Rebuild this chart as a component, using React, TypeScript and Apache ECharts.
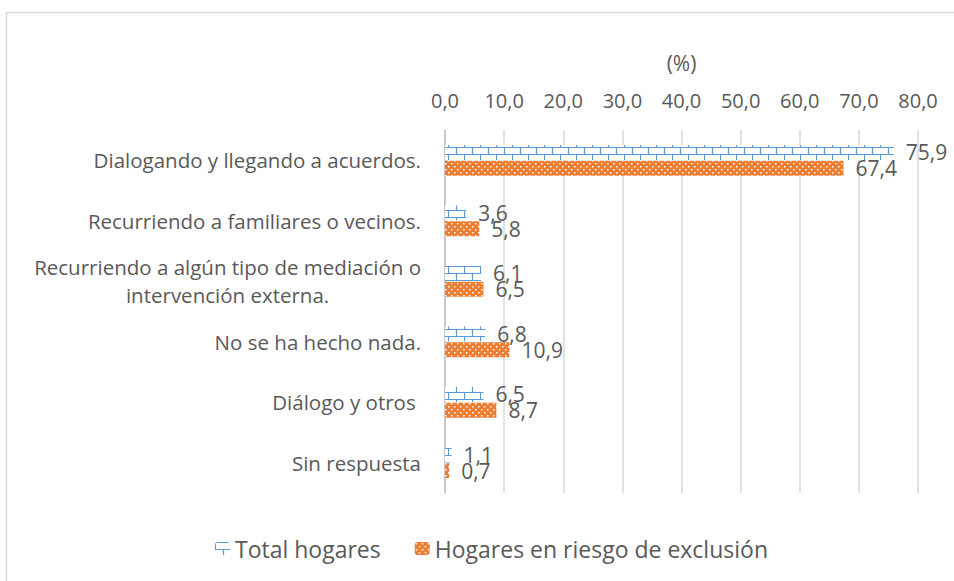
import React, { useEffect, useRef } from "react";
import * as echarts from "echarts";

const categories = [
  "Dialogando y llegando a acuerdos.",
  "Recurriendo a familiares o vecinos.",
  "Recurriendo a algún tipo de mediación o\nintervención externa.",
  "No se ha hecho nada.",
  "Diálogo y otros ",
  "Sin respuesta",
];
const totalHogares = [75.9, 3.6, 6.1, 6.8, 6.5, 1.1];
const riesgoExclusion = [67.4, 5.8, 6.5, 10.9, 8.7, 0.7];
const seriesNames = ["Total hogares", "Hogares en riesgo de exclusión"];
const axisTitle = "(%)";

const BLUE = "#5B9BD5";
const ORANGE = "#ED7D31";
const TEXT = "#595959";
const FONT = "Open Sans";

function brickPattern() {
  const c = document.createElement("canvas");
  c.width = 16;
  c.height = 14;
  const g = c.getContext("2d")!;
  g.fillStyle = "#ffffff";
  g.fillRect(0, 0, 16, 14);
  g.strokeStyle = BLUE;
  g.lineWidth = 1.2;
  g.beginPath();
  g.moveTo(0, 0.5);
  g.lineTo(16, 0.5);
  g.moveTo(0, 7.5);
  g.lineTo(16, 7.5);
  g.moveTo(0.5, 0);
  g.lineTo(0.5, 7.5);
  g.moveTo(8.5, 7.5);
  g.lineTo(8.5, 14);
  g.stroke();
  return c;
}

function dotPattern() {
  const c = document.createElement("canvas");
  c.width = 6;
  c.height = 6;
  const g = c.getContext("2d")!;
  g.fillStyle = ORANGE;
  g.fillRect(0, 0, 6, 6);
  g.fillStyle = "#ffffff";
  g.fillRect(1, 1, 1.5, 1.5);
  g.fillRect(4, 4, 1.5, 1.5);
  return c;
}

const fmt = (v: number) => v.toFixed(1).replace(".", ",");

export default function App() {
  const ref = useRef<HTMLDivElement>(null);
  useEffect(() => {
    if (!ref.current) return;
    const chart = echarts.init(ref.current, null, { renderer: "svg" });
    const blueFill = { image: brickPattern(), repeat: "repeat" } as any;
    const orangeFill = { image: dotPattern(), repeat: "repeat" } as any;
    const labelCommon = {
      show: true,
      position: "right" as const,
      distance: 12,
      color: TEXT,
      fontFamily: FONT,
      fontSize: 21,
      formatter: (p: any) => fmt(p.value),
    };
    chart.setOption({
      animation: false,
      textStyle: { fontFamily: FONT },
      graphic: [
        {
          type: "rect",
          shape: { x: 6.5, y: 12.5, width: 1000, height: 700 },
          style: { fill: "none", stroke: "#D9D9D9", lineWidth: 1.5 },
          silent: true,
        },
      ],
      legend: {
        bottom: 16,
        left: 210,
        itemWidth: 15,
        itemHeight: 13,
        itemGap: 34,
        textStyle: { color: TEXT, fontSize: 23, fontFamily: FONT },
        data: seriesNames,
      },
      grid: { left: 445, right: 36, top: 130, bottom: 88, containLabel: false },
      xAxis: {
        type: "value",
        position: "top",
        min: 0,
        max: 80,
        interval: 10,
        name: axisTitle,
        nameLocation: "middle",
        nameGap: 57,
        nameTextStyle: { color: TEXT, fontSize: 21, fontFamily: FONT },
        axisLine: { show: false },
        axisTick: { show: false },
        axisLabel: {
          color: TEXT,
          fontSize: 20,
          fontFamily: FONT,
          margin: 20,
          formatter: (v: number) => fmt(v),
        },
        splitLine: { lineStyle: { color: "#D9D9D9", width: 1.5 } },
      },
      yAxis: {
        type: "category",
        inverse: true,
        data: categories,
        axisLine: { show: true, lineStyle: { color: "#BFBFBF", width: 1.5 } },
        axisTick: { show: false },
        axisLabel: {
          color: TEXT,
          fontSize: 20.5,
          fontFamily: FONT,
          margin: 24,
          lineHeight: 28,
          formatter: (v: string) =>
            v
              .split("\n")
              .map((l) => `{c|${l}}`)
              .join("\n"),
          rich: { c: { align: "center", color: TEXT, fontSize: 20.5, fontFamily: FONT, lineHeight: 28 } },
        },
      },
      series: [
        {
          name: seriesNames[0],
          type: "bar",
          data: totalHogares,
          barWidth: 15,
          barGap: "5%",
          itemStyle: { color: blueFill },
          label: labelCommon,
        },
        {
          name: seriesNames[1],
          type: "bar",
          data: riesgoExclusion,
          barWidth: 15,
          barGap: "5%",
          itemStyle: { color: orangeFill },
          label: labelCommon,
        },
      ],
    });
    return () => chart.dispose();
  }, []);
  return (
    <div
      ref={ref}
      style={{ position: "fixed", left: 0, top: 0, width: 954, height: 581, background: "#fff" }}
    />
  );
}
